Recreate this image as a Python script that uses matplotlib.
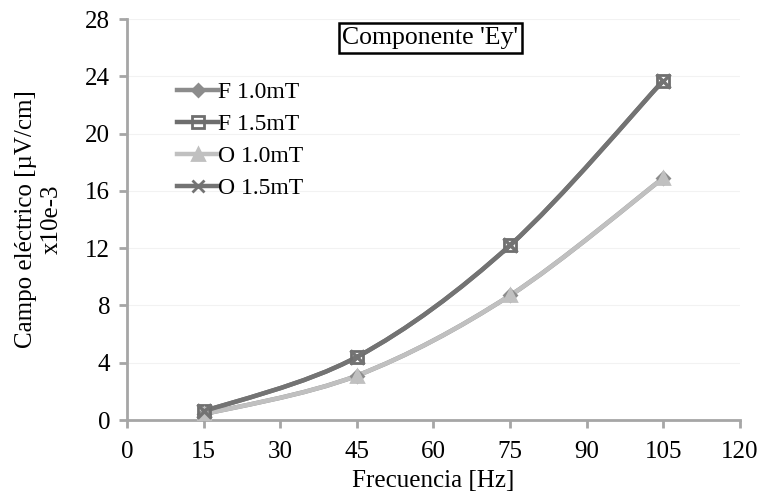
import numpy as np
import matplotlib
matplotlib.use("Agg")
import matplotlib.pyplot as plt
from matplotlib.path import Path
from matplotlib.patches import PathPatch
from matplotlib.lines import Line2D

plt.rcParams['font.family'] = ['Liberation Serif', 'DejaVu Serif']

freq = [15, 45, 75, 105]  # Hz
f_10 = [0.4, 3.1, 8.7, 16.9]
f_15 = [0.6, 4.4, 12.2, 23.7]
o_10 = [0.4, 3.1, 8.7, 16.9]
o_15 = [0.6, 4.4, 12.2, 23.7]

labels = ['F 1.0mT', 'F 1.5mT', 'O 1.0mT', 'O 1.5mT']
colors = ['#8c8c8c', '#6e6e6e', '#c0c0c0', '#737373']
markers = ['D', 's', '^', 'x']


def smooth_path(x, y):
    # excel-like smoothed line: cubic bezier with catmull-rom tangents
    x = np.asarray(x, float)
    y = np.asarray(y, float)
    verts = [(x[0], y[0])]
    codes = [Path.MOVETO]
    n = len(x)
    for i in range(n - 1):
        x0, y0 = (x[i - 1], y[i - 1]) if i > 0 else (x[i], y[i])
        x3, y3 = (x[i + 2], y[i + 2]) if i + 2 < n else (x[i + 1], y[i + 1])
        c1 = (x[i] + (x[i + 1] - x0) / 6, y[i] + (y[i + 1] - y0) / 6)
        c2 = (x[i + 1] - (x3 - x[i]) / 6, y[i + 1] - (y3 - y[i]) / 6)
        verts += [c1, c2, (x[i + 1], y[i + 1])]
        codes += [Path.CURVE4] * 3
    return Path(verts, codes)


fig = plt.figure(figsize=(7.62, 4.98), dpi=100)
ax = fig.add_axes([0.1667, 0.1566, 0.8043, 0.8052])

series = [f_10, f_15, o_10, o_15]
handles = []
for ys, lab, c, m in zip(series, labels, colors, markers):
    ax.add_patch(PathPatch(smooth_path(freq, ys), facecolor='none',
                           edgecolor=c, lw=3.2, zorder=3))
    if m == 'x':
        ax.plot(freq, ys, linestyle='none', marker=m, ms=10, mew=2.5,
                color=c, zorder=4)
    else:
        ax.plot(freq, ys, linestyle='none', marker=m, ms=8 if m != 'D' else 6,
                mfc='none' if m == 's' else c, mec=c, mew=2, zorder=4)
    handles.append(Line2D([0], [0], color=c, lw=3.2, marker=m,
                          ms=8 if m != 'D' else 6, mew=2,
                          mfc='none' if m == 's' else c, mec=c))

ax.set_xlim(0, 120)
ax.set_ylim(0, 28)
ax.set_xticks(np.arange(0, 121, 15))
ax.set_yticks(np.arange(0, 29, 4))
ax.grid(axis='y', color='#f2f2f2', lw=0.8)
ax.set_axisbelow(True)

for s in ['top', 'right']:
    ax.spines[s].set_visible(False)
for s in ['left', 'bottom']:
    ax.spines[s].set_color('#a6a6a6')
    ax.spines[s].set_linewidth(2)
ax.tick_params(direction='out', length=6, width=2, color='#a6a6a6',
               labelsize=18, pad=6)
ax.tick_params(axis='x', pad=9)

ax.set_xlabel('Frecuencia [Hz]', fontsize=18, labelpad=5)
ax.set_ylabel('Campo eléctrico [µV/cm]\nx10e-3', fontsize=18, labelpad=16,
              linespacing=1.25)

ax.text(0.495, 0.952, "Componente 'Ey'", transform=ax.transAxes, fontsize=18.5,
        ha='center', va='center',
        bbox=dict(boxstyle='square,pad=0.15', facecolor='white',
                  edgecolor='black', lw=1.8))

leg = ax.legend(handles, labels, loc='upper left',
                bbox_to_anchor=(0.066, 0.868), frameon=False, fontsize=17,
                handlelength=1.75, handletextpad=0.0, labelspacing=0.45,
                borderaxespad=0)

fig.savefig('out.png', dpi=100)
